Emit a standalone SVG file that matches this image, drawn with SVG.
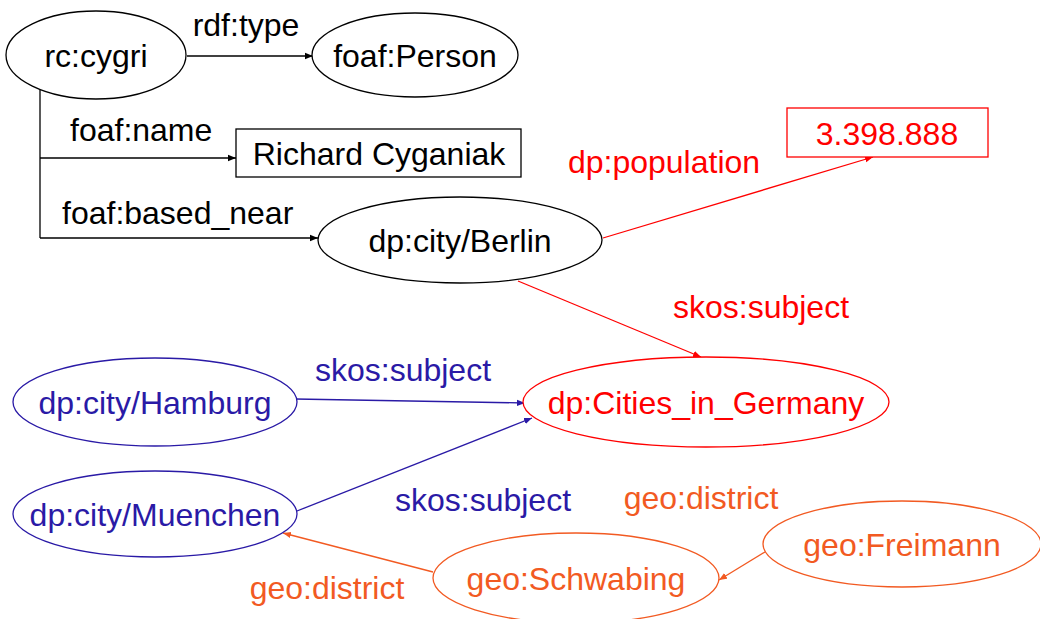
<svg xmlns="http://www.w3.org/2000/svg" width="1040" height="619" viewBox="0 0 1040 619">
  <style>
    text { font-family: "Liberation Sans", Arial, sans-serif; font-size: 32px; }
    .mid { text-anchor: middle; }
    .k { fill: #000; }
    .r { fill: #ff0000; }
    .b { fill: #2a1aa6; }
    .o { fill: #f25a22; }
    .shape { fill: #fff; stroke-width: 1.3; }
    .sk { stroke: #000; }
    .sr { stroke: #ff0000; }
    .sb { stroke: #2a1aa6; }
    .so { stroke: #f25a22; }
    .edge { fill: none; stroke-width: 1.3; }
  </style>
  <defs>
    <marker id="ak" viewBox="0 0 10 10" refX="10" refY="5" markerWidth="8" markerHeight="8" markerUnits="userSpaceOnUse" orient="auto"><path d="M0,1 L10,5 L0,9 Z" fill="#000"/></marker>
    <marker id="ar" viewBox="0 0 10 10" refX="10" refY="5" markerWidth="8" markerHeight="8" markerUnits="userSpaceOnUse" orient="auto"><path d="M0,1 L10,5 L0,9 Z" fill="#ff0000"/></marker>
    <marker id="ab" viewBox="0 0 10 10" refX="10" refY="5" markerWidth="8" markerHeight="8" markerUnits="userSpaceOnUse" orient="auto"><path d="M0,1 L10,5 L0,9 Z" fill="#2a1aa6"/></marker>
    <marker id="ao" viewBox="0 0 10 10" refX="10" refY="5" markerWidth="8" markerHeight="8" markerUnits="userSpaceOnUse" orient="auto"><path d="M0,1 L10,5 L0,9 Z" fill="#f25a22"/></marker>
  </defs>

  <g id="connectors">
    <path class="edge sk" d="M187,56 L313,56" marker-end="url(#ak)"/>
    <path class="edge sk" d="M40,90 L40,238"/>
    <path class="edge sk" d="M40,158 L236,158" marker-end="url(#ak)"/>
    <path class="edge sk" d="M40,238 L318,238" marker-end="url(#ak)"/>
    <path class="edge sr" d="M603,238 L873,157" marker-end="url(#ar)"/>
    <path class="edge sr" d="M518,281 L701,357" marker-end="url(#ar)"/>
    <path class="edge sb" d="M295,399 L525,403" marker-end="url(#ab)"/>
    <path class="edge sb" d="M297,511 L532,418" marker-end="url(#ab)"/>
    <path class="edge so" d="M765,552 L719,580" marker-end="url(#ao)"/>
    <path class="edge so" d="M433,572 L283,533" marker-end="url(#ao)"/>

    <text class="k mid" x="246" y="36">rdf:type</text>
    <text class="k" x="70" y="141">foaf:name</text>
    <text class="k" x="62" y="224">foaf:based_near</text>
    <text class="r mid" x="664" y="173">dp:population</text>
    <text class="r mid" x="761" y="318">skos:subject</text>
    <text class="b mid" x="403" y="381">skos:subject</text>
    <text class="b mid" x="483" y="511">skos:subject</text>
    <text class="o mid" x="701" y="509">geo:district</text>
    <text class="o mid" x="327" y="599">geo:district</text>
  </g>

  <g id="rc-cygri">
    <ellipse class="shape sk" cx="96" cy="55" rx="90" ry="44"/>
    <text class="k mid" x="96" y="67">rc:cygri</text>
  </g>
  <g id="foaf-person">
    <ellipse class="shape sk" cx="415" cy="55" rx="103" ry="42"/>
    <text class="k mid" x="415" y="67">foaf:Person</text>
  </g>
  <g id="richard-cyganiak">
    <rect class="shape sk" x="236" y="129" width="285" height="48"/>
    <text class="k mid" x="379" y="165">Richard Cyganiak</text>
  </g>
  <g id="berlin">
    <ellipse class="shape sk" cx="460" cy="240" rx="142" ry="43"/>
    <text class="k mid" x="460" y="252">dp:city/Berlin</text>
  </g>
  <g id="population">
    <rect class="shape sr" x="787" y="108" width="201" height="49"/>
    <text class="r mid" x="887" y="145">3.398.888</text>
  </g>
  <g id="cities-in-germany">
    <ellipse class="shape sr" cx="706" cy="402" rx="183" ry="45"/>
    <text class="r mid" x="706" y="414">dp:Cities_in_Germany</text>
  </g>
  <g id="hamburg">
    <ellipse class="shape sb" cx="155" cy="402" rx="142" ry="44"/>
    <text class="b mid" x="155" y="414">dp:city/Hamburg</text>
  </g>
  <g id="muenchen">
    <ellipse class="shape sb" cx="155" cy="514" rx="142" ry="43"/>
    <text class="b mid" x="155" y="526">dp:city/Muenchen</text>
  </g>
  <g id="freimann">
    <ellipse class="shape so" cx="902" cy="544" rx="139" ry="43"/>
    <text class="o mid" x="902" y="556">geo:Freimann</text>
  </g>
  <g id="schwabing">
    <ellipse class="shape so" cx="576" cy="578" rx="143" ry="45"/>
    <text class="o mid" x="576" y="590">geo:Schwabing</text>
  </g>
</svg>
